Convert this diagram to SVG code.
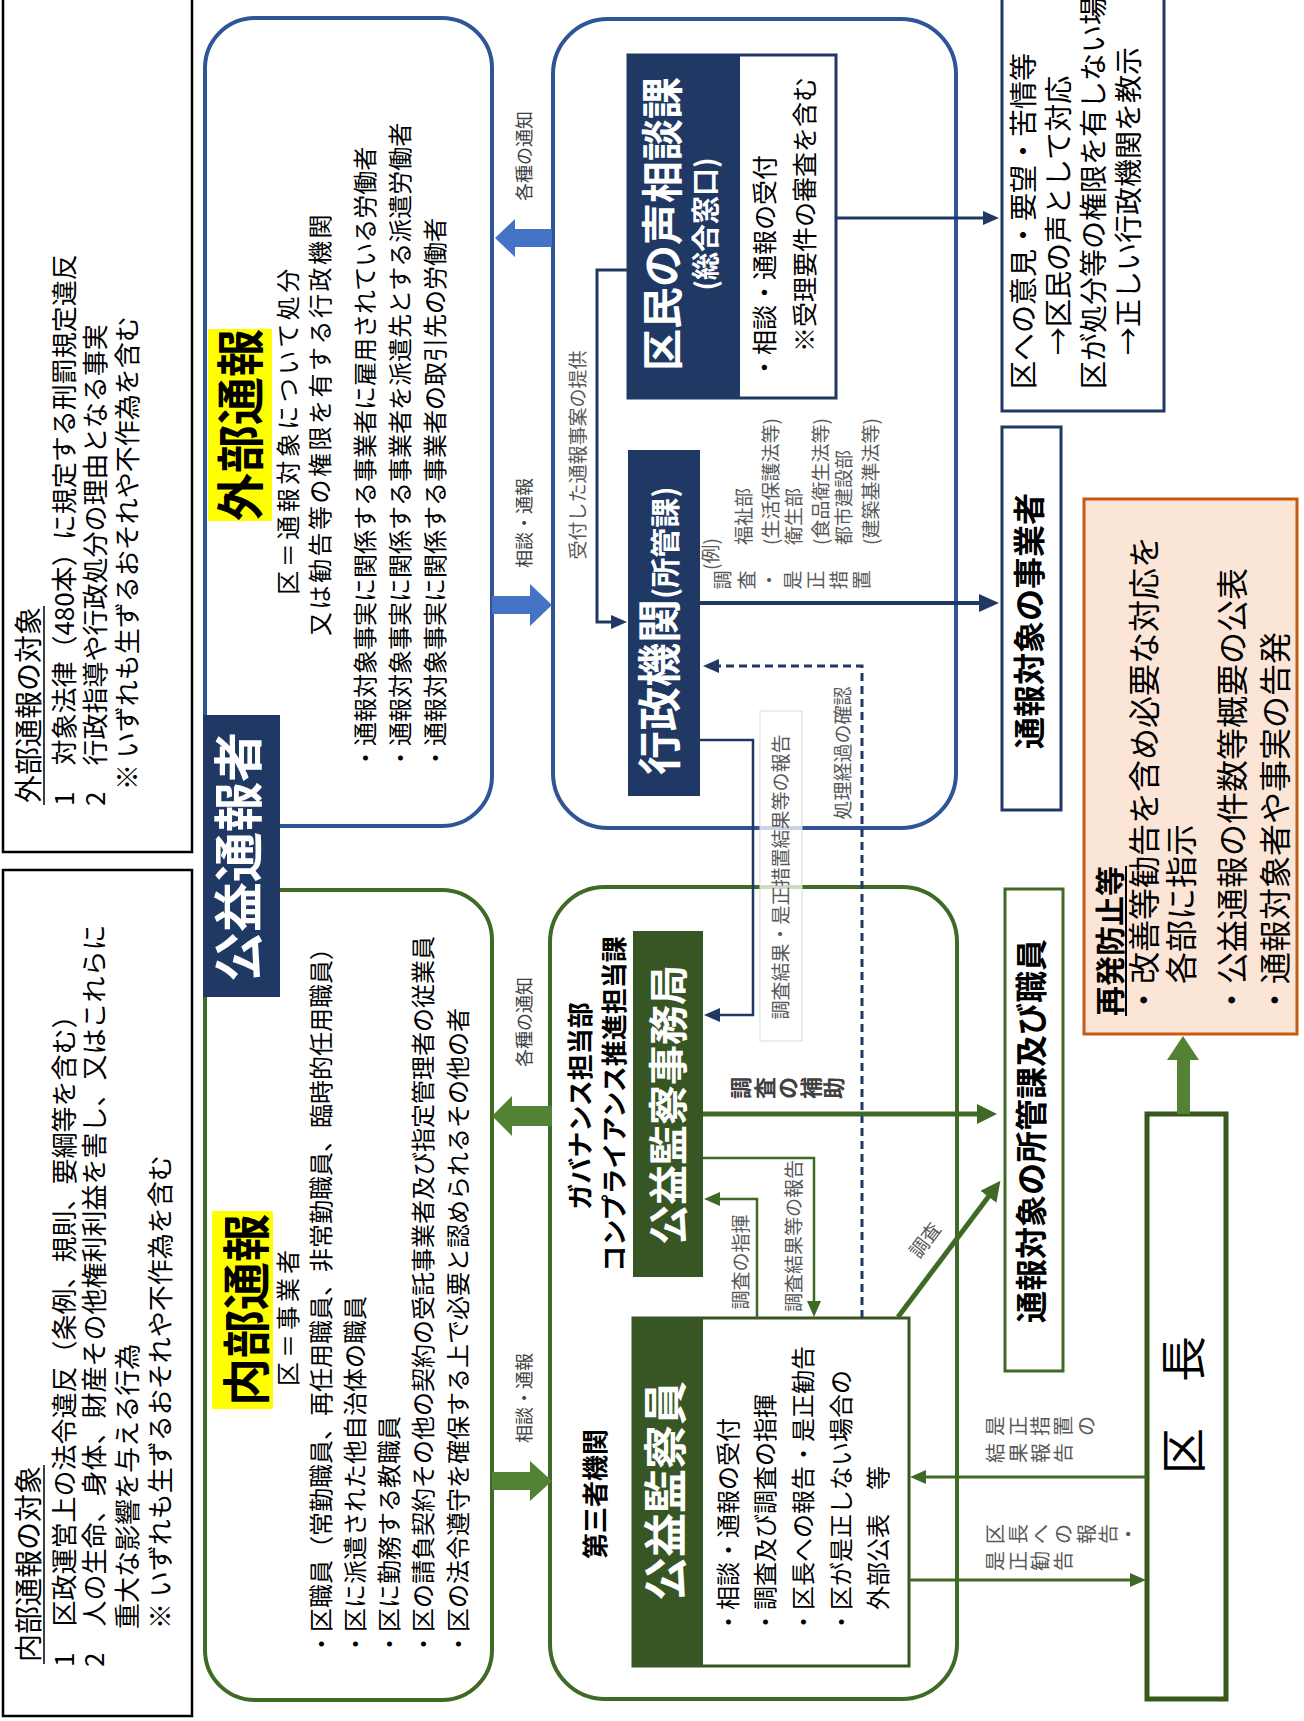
<svg xmlns="http://www.w3.org/2000/svg" width="1304" height="1721" viewBox="0 0 1304 1721">
  <defs>
    <style>
      text { font-family: 'Noto Sans CJK JP', 'Noto Sans', sans-serif; fill: #000; }
      .b { font-weight: 700; }
      .w { fill: #fff; }
      .gr { fill: #595959; font-size: 19px; }
      .lbl { fill: #404040; font-size: 18px; }
      .m { text-anchor: middle; }
      .navyLine { fill: none; stroke: #1F3864; }
      .greenLine { fill: none; stroke: #3F6A26; }
    </style>
    <marker id="mN" viewBox="0 0 16 14" refX="1" refY="7" markerWidth="16" markerHeight="14" markerUnits="userSpaceOnUse" orient="auto">
      <path d="M0,0 L16,7 L0,14 z" fill="#1F3864"/>
    </marker>
    <marker id="mNL" viewBox="0 0 20 18" refX="1" refY="9" markerWidth="20" markerHeight="18" markerUnits="userSpaceOnUse" orient="auto">
      <path d="M0,0 L20,9 L0,18 z" fill="#1F3864"/>
    </marker>
    <marker id="mG" viewBox="0 0 16 14" refX="1" refY="7" markerWidth="16" markerHeight="14" markerUnits="userSpaceOnUse" orient="auto">
      <path d="M0,0 L16,7 L0,14 z" fill="#3F6A26"/>
    </marker>
    <marker id="mGL" viewBox="0 0 20 20" refX="1" refY="10" markerWidth="20" markerHeight="20" markerUnits="userSpaceOnUse" orient="auto">
      <path d="M0,0 L20,10 L0,20 z" fill="#3F6A26"/>
    </marker>
  </defs>

  <rect width="1304" height="1721" fill="#fff"/>

  <!-- left column: scope of reports -->
  <g id="external-scope">
    <rect x="3" y="-3" width="189" height="855" fill="#fff" stroke="#000" stroke-width="2.5"/>
    <line x1="44" y1="805" x2="44" y2="606" stroke="#000" stroke-width="1.5"/>
  </g>
  <g id="internal-scope">
    <rect x="3" y="870" width="189" height="846" fill="#fff" stroke="#000" stroke-width="2.5"/>
    <line x1="44" y1="1664" x2="44" y2="1465" stroke="#000" stroke-width="1.5"/>
  </g>

  <!-- reporter side containers -->
  <g id="external-report">
    <rect x="205" y="18" width="287" height="808" rx="50" fill="#fff" stroke="#2F5597" stroke-width="4"/>
    <rect x="208" y="329" width="64" height="192" fill="#FFFF00"/>
  </g>
  <g id="internal-report">
    <rect x="205" y="890" width="287" height="810" rx="50" fill="#fff" stroke="#3F6A26" stroke-width="4"/>
    <rect x="212" y="1211" width="61" height="198" fill="#FFFF00"/>
  </g>
  <g id="reporter">
    <rect x="203" y="715" width="77" height="282" fill="#1F3864"/>
  </g>

  <!-- administrative side -->
  <g id="admin-container">
    <rect x="553" y="19" width="403" height="809" rx="55" fill="#fff" stroke="#2F5597" stroke-width="4"/>
  </g>
  <g id="kumin-no-koe">
    <rect x="628" y="55" width="112" height="343" fill="#1F3864"/>
    <rect x="628" y="55" width="208" height="343" fill="none" stroke="#1F3864" stroke-width="3"/>
  </g>
  <g id="gyosei-kikan">
    <rect x="628" y="450" width="72" height="346" fill="#1F3864"/>
  </g>

  <!-- third-party side -->
  <g id="third-party-container">
    <rect x="550" y="887" width="407" height="812" rx="55" fill="#fff" stroke="#3F6A26" stroke-width="4"/>
  </g>
  <g id="jimukyoku">
    <rect x="633" y="931" width="70" height="346" fill="#375623"/>
  </g>
  <g id="kansatsuin">
    <rect x="633" y="1318" width="70" height="348" fill="#375623"/>
    <rect x="633" y="1318" width="276" height="348" fill="none" stroke="#375623" stroke-width="3"/>
  </g>

  <!-- right column -->
  <g id="opinion-box">
    <rect x="1002" y="-3" width="162" height="414" fill="#fff" stroke="#1F3864" stroke-width="3"/>
  </g>
  <g id="jigyosha-box">
    <rect x="1002" y="427" width="59" height="383" fill="#fff" stroke="#1F3864" stroke-width="3"/>
  </g>
  <g id="prevention-box">
    <rect x="1084" y="499" width="213" height="535" fill="#FBE5D6" stroke="#C55A11" stroke-width="3"/>
    <line x1="1126" y1="1016" x2="1126" y2="866" stroke="#000" stroke-width="2"/>
  </g>
  <g id="shokan-box">
    <rect x="1005" y="889" width="58" height="482" fill="#fff" stroke="#3F6A26" stroke-width="3"/>
  </g>
  <g id="kucho">
    <rect x="1147" y="1114" width="79" height="585" fill="#fff" stroke="#38571A" stroke-width="5"/>
  </g>

  <!-- connectors -->
  <g id="connectors">
    <!-- block arrows between reporter boxes and receiving offices -->
    <polygon points="495,238 515,219 515,229 552,229 552,247 515,247 515,257" fill="#4472C4"/>
    <polygon points="492,596 530,596 530,584 552,605 530,626 530,614 492,614" fill="#4472C4"/>
    <polygon points="492,1116 512,1096 512,1106 552,1106 552,1126 512,1126 512,1136" fill="#548235"/>
    <polygon points="492,1472 530,1472 530,1461 552,1481 530,1501 530,1490 492,1490" fill="#548235"/>
    <!-- mayor to prevention measures -->
    <polygon points="1177,1114 1177,1060 1167,1060 1183,1036 1199,1060 1190,1060 1190,1114" fill="#548235"/>

    <!-- navy connectors -->
    <path class="navyLine" stroke-width="3" d="M628,270 H597 V622 H612" marker-end="url(#mN)"/>
    <path class="navyLine" stroke-width="4" d="M700,603 H980" marker-end="url(#mNL)"/>
    <path class="navyLine" stroke-width="3" d="M836,218 H984" marker-end="url(#mN)"/>
    <path class="navyLine" stroke-width="2.5" d="M700,740 H753 V1015 H719" marker-end="url(#mN)"/>
    <path class="navyLine" stroke-width="3" d="M862,1318 V666 H718" stroke-dasharray="8 5" marker-end="url(#mN)"/>

    <!-- green connectors -->
    <path class="greenLine" stroke-width="5" d="M703,1114 H978" marker-end="url(#mGL)"/>
    <path class="greenLine" stroke-width="2.5" d="M757,1318 V1199 H719" marker-end="url(#mG)"/>
    <path class="greenLine" stroke-width="2.5" d="M703,1158 H814 V1302" marker-end="url(#mG)"/>
    <path class="greenLine" stroke-width="5" d="M898,1317 L989,1196" marker-end="url(#mGL)"/>
    <path class="greenLine" stroke-width="3" d="M1147,1477 H925" marker-end="url(#mG)"/>
    <path class="greenLine" stroke-width="3" d="M909,1580 H1131" marker-end="url(#mG)"/>

    <!-- label plate over the report line -->
    <rect x="760" y="711" width="42" height="330" fill="#fff" fill-opacity="0.75" stroke="#D9D9D9" stroke-width="1"/>
  </g>

  <!-- diagonal label on the investigation arrow -->
  <text class="gr m" transform="translate(925,1240) rotate(-53)" y="7">調査</text>

  <!-- all other text runs bottom-to-top -->
  <g id="labels" transform="rotate(-90)">
    <!-- external scope -->
    <text x="-803" y="39" font-size="28">外部通報の対象</text>
    <text x="-806" y="74" font-size="26">1　対象法律（480本）に規定する刑罰規定違反</text>
    <text x="-806" y="105" font-size="26">2　行政指導や行政処分の理由となる事実</text>
    <text x="-790" y="137" font-size="26">※ いずれも生ずるおそれや不作為を含む</text>

    <!-- internal scope -->
    <text x="-1662" y="39" font-size="28">内部通報の対象</text>
    <text x="-1667" y="74" font-size="26">1　区政運営上の法令違反（条例、規則、要綱等を含む）</text>
    <text x="-1667" y="104" font-size="26">2　人の生命、身体、財産その他権利利益を害し、又はこれらに</text>
    <text x="-1629" y="137" font-size="26">重大な影響を与える行為</text>
    <text x="-1629" y="170" font-size="26">※ いずれも生ずるおそれや不作為を含む</text>

    <!-- external report box -->
    <text class="b m" x="-425" y="258" font-size="48">外部通報</text>
    <text class="m" x="-430" y="297" font-size="24" letter-spacing="3.5">区＝通報対象について処分</text>
    <text class="m" x="-424" y="329" font-size="24" letter-spacing="2.5">又は勧告等の権限を有する行政機関</text>
    <text x="-770" y="374" font-size="24">・通報対象事実に関係する事業者に雇用されている労働者</text>
    <text x="-770" y="409" font-size="24">・通報対象事実に関係する事業者を派遣先とする派遣労働者</text>
    <text x="-770" y="444" font-size="24">・通報対象事実に関係する事業者の取引先の労働者</text>

    <!-- internal report box -->
    <text class="b m" x="-1310" y="264" font-size="48">内部通報</text>
    <text class="m" x="-1316" y="297" font-size="24" letter-spacing="4">区＝事業者</text>
    <text x="-1656" y="330" font-size="24">・区職員（常勤職員、再任用職員、非常勤職員、臨時的任用職員）</text>
    <text x="-1656" y="364" font-size="24">・区に派遣された他自治体の職員</text>
    <text x="-1656" y="398" font-size="24">・区に勤務する教職員</text>
    <text x="-1656" y="432" font-size="24">・区の請負契約その他の契約の受託事業者及び指定管理者の従業員</text>
    <text x="-1656" y="467" font-size="24">・区の法令遵守を確保する上で必要と認められるその他の者</text>

    <!-- reporter -->
    <text class="b w m" x="-857" y="257" font-size="50">公益通報者</text>

    <!-- block arrow labels -->
    <text class="lbl m" x="-156" y="531">各種の通知</text>
    <text class="lbl m" x="-523" y="531">相談・通報</text>
    <text class="lbl m" x="-1022" y="531">各種の通知</text>
    <text class="lbl m" x="-1398" y="531">相談・通報</text>

    <!-- kumin no koe -->
    <text class="b w m" x="-224" y="678" font-size="42">区民の声相談課</text>
    <text class="b w m" x="-224" y="716" font-size="28">(総合窓口)</text>
    <text x="-380" y="774" font-size="25">・相談・通報の受付</text>
    <text x="-352" y="814" font-size="25">※受理要件の審査を含む</text>

    <!-- gyosei kikan -->
    <text class="b w" x="-775" y="676" font-size="44">行政機関<tspan font-size="30">(所管課)</tspan></text>
    <text class="gr m" x="-455" y="585">受付した通報事案の提供</text>
    <text class="gr" x="-570" y="718">(例)</text>
    <text class="gr" x="-545" y="751">福祉部</text>
    <text class="gr" x="-545" y="778">(生活保護法等)</text>
    <text class="gr" x="-545" y="801">衛生部</text>
    <text class="gr" x="-545" y="828">(食品衛生法等)</text>
    <text class="gr" x="-545" y="851">都市建設部</text>
    <text class="gr" x="-545" y="878">(建築基準法等)</text>
    <text class="gr m"><tspan x="-580" y="730">調</tspan><tspan x="-580" y="754">査</tspan><tspan x="-580" y="777">・</tspan><tspan x="-580" y="800">是</tspan><tspan x="-580" y="823">正</tspan><tspan x="-580" y="846">措</tspan><tspan x="-580" y="869">置</tspan></text>
    <text class="gr m" x="-753" y="850">処理経過の確認</text>
    <text class="gr m" x="-877" y="788">調査結果・是正措置結果等の報告</text>

    <!-- right column -->
    <text x="-389" y="1034" font-size="28">区への意見・要望・苦情等</text>
    <text x="-355" y="1069" font-size="28">→区民の声として対応</text>
    <text x="-389" y="1104" font-size="28">区が処分等の権限を有しない場合</text>
    <text x="-355" y="1139" font-size="28">→正しい行政機関を教示</text>
    <text class="b m" x="-621" y="1041" font-size="32">通報対象の事業者</text>
    <text class="b" x="-1016" y="1121" font-size="30">再発防止等</text>
    <text x="-1016" y="1156" font-size="32">・改善等勧告を含め必要な対応を</text>
    <text x="-984" y="1193" font-size="32">各部に指示</text>
    <text x="-1016" y="1244" font-size="32">・公益通報の件数等概要の公表</text>
    <text x="-1016" y="1287" font-size="32">・通報対象者や事実の告発</text>
    <text class="b m" x="-1131" y="1043" font-size="32">通報対象の所管課及び職員</text>
    <text class="m" x="-1405" y="1200" font-size="46">区　長</text>

    <!-- third party -->
    <text class="b m" x="-1106" y="590" font-size="26">ガバナンス担当部</text>
    <text class="b m" x="-1104" y="624" font-size="26">コンプライアンス推進担当課</text>
    <text class="b w m" x="-1105" y="683" font-size="40">公益監察事務局</text>
    <text class="b m" style="fill:#404040; font-size:22px"><tspan x="-1088" y="749">調</tspan><tspan x="-1088" y="773">査</tspan><tspan x="-1088" y="796">の</tspan><tspan x="-1088" y="819">補</tspan><tspan x="-1088" y="842">助</tspan></text>
    <text class="gr m" x="-1262" y="748">調査の指揮</text>
    <text class="gr m" x="-1236" y="801">調査結果等の報告</text>
    <text class="b w m" x="-1491" y="682" font-size="44">公益監察員</text>
    <text x="-1634" y="737" font-size="24">・相談・通報の受付</text>
    <text x="-1634" y="774" font-size="24">・調査及び調査の指揮</text>
    <text x="-1634" y="812" font-size="24">・区長への報告・是正勧告</text>
    <text x="-1634" y="850" font-size="24">・区が是正しない場合の</text>
    <text x="-1610" y="887" font-size="24">外部公表　等</text>
    <text class="b m" x="-1494" y="605" font-size="26">第三者機関</text>

    <!-- stacked labels beside the mayor -->
    <text class="gr m" style="font-size:20px"><tspan x="-1426" y="1003">是</tspan><tspan x="-1426" y="1026">正</tspan><tspan x="-1426" y="1048">措</tspan><tspan x="-1426" y="1071">置</tspan><tspan x="-1426" y="1094">の</tspan></text>
    <text class="gr m" style="font-size:20px"><tspan x="-1453" y="1003">結</tspan><tspan x="-1453" y="1026">果</tspan><tspan x="-1453" y="1048">報</tspan><tspan x="-1453" y="1071">告</tspan></text>
    <text class="gr m" style="font-size:20px"><tspan x="-1534" y="1003">区</tspan><tspan x="-1534" y="1026">長</tspan><tspan x="-1534" y="1048">へ</tspan><tspan x="-1534" y="1071">の</tspan><tspan x="-1534" y="1094">報</tspan><tspan x="-1534" y="1116">告</tspan><tspan x="-1534" y="1136">・</tspan></text>
    <text class="gr m" style="font-size:20px"><tspan x="-1561" y="1003">是</tspan><tspan x="-1561" y="1026">正</tspan><tspan x="-1561" y="1048">勧</tspan><tspan x="-1561" y="1071">告</tspan></text>
  </g>
</svg>
